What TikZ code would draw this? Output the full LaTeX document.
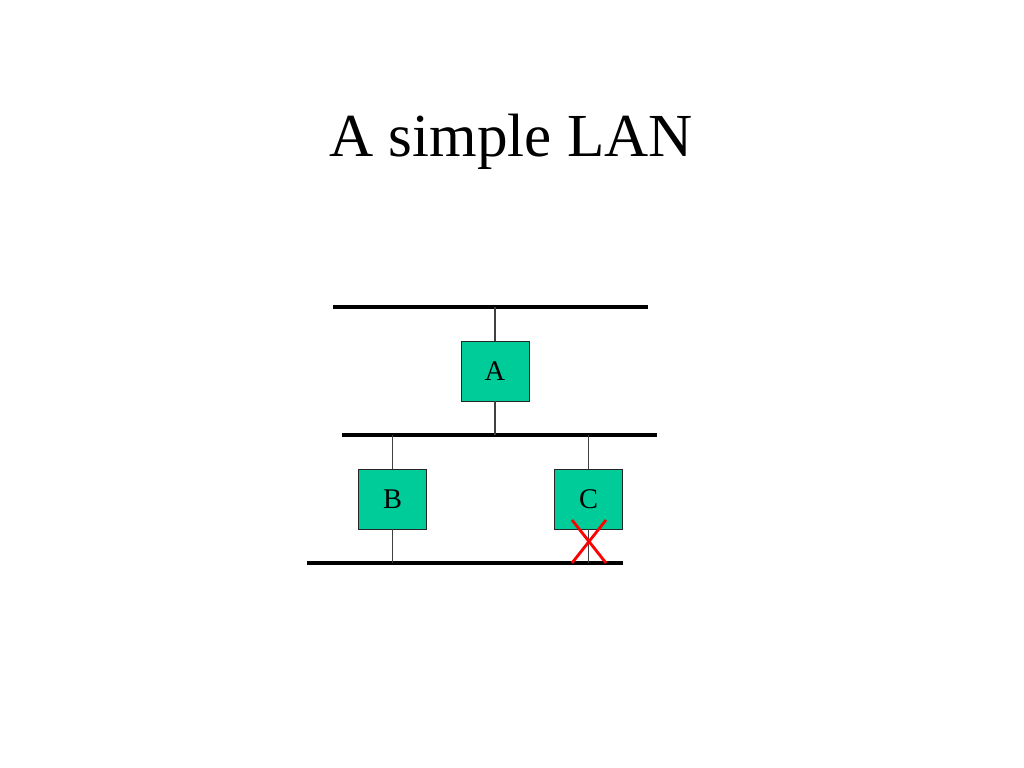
\documentclass[tikz,border=0pt]{standalone}
\usepackage{fontspec}
\setmainfont{Liberation Serif}
\usetikzlibrary{positioning}
\definecolor{hostgreen}{RGB}{0,204,153}

\begin{document}
\begin{tikzpicture}[x=0.703125pt,y=-0.703125pt,
    host/.style={draw=black!85,fill=hostgreen,inner sep=0pt,
      minimum width=47.8pt,minimum height=42.2pt,
      font=\fontsize{20}{24}\selectfont},
    bus/.style={line width=2.8pt},
    tap/.style={draw=black!75,line width=0.75pt},
    cut/.style={red,line width=2pt}]
\useasboundingbox (0,0) rectangle (1024,768);
\node[anchor=base,font=\fontsize{43}{52}\selectfont] (title) at (511,157) {A simple LAN};
% the three segments
\coordinate (top west) at (333,307);  \coordinate (top east) at (648,307);
\coordinate (mid west) at (342,435);  \coordinate (mid east) at (657,435);
\coordinate (low west) at (307,563);  \coordinate (low east) at (623,563);
\draw[bus] (top west) -- (top east);
\draw[bus] (mid west) -- (mid east);
\draw[bus] (low west) -- (low east);
% hosts
\node[host] (a) at (495,371) {A};
\node[host] (b) at (392.5,499) {B};
\node[host] (c) at (588.5,499) {C};
\draw[tap] (a.north) -- (a.north |- top west);
\draw[tap] (a.south) -- (a.south |- mid west);
\draw[tap] (b.north) -- (b.north |- mid west);
\draw[tap] (b.south) -- (b.south |- low west);
\draw[tap] (c.north) -- (c.north |- mid west);
\draw[tap] (c.south) -- (c.south |- low west);
% broken link
\draw[cut] (572,520) -- (606,563) (606,520) -- (572,563);
\end{tikzpicture}
\end{document}
